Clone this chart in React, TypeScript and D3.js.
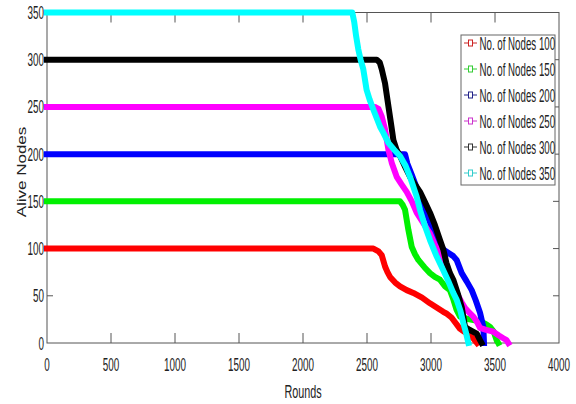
import React from 'react';
import * as d3 from 'd3';

const xTicks = [0, 500, 1000, 1500, 2000, 2500, 3000, 3500, 4000];
const yTicks = [0, 50, 100, 150, 200, 250, 300, 350];
const xLabel = 'Rounds';
const yLabel = 'Alive Nodes';

const seriesNames = [
  'No. of Nodes 100',
  'No. of Nodes 150',
  'No. of Nodes 200',
  'No. of Nodes 250',
  'No. of Nodes 300',
  'No. of Nodes 350',
];
const seriesColors = ['#ff0000', '#00f000', '#0000ff', '#ff00ff', '#000000', '#00ffff'];
const legendColors = ['#cc2222', '#33cc33', '#222288', '#cc33cc', '#333333', '#33cccc'];

const rounds100 = [0, 2550, 2590, 2615, 2641, 2660, 2680, 2720, 2758, 2810, 2862, 2930, 2992, 3050, 3096, 3122, 3160, 3188, 3227, 3260, 3300, 3330, 3360];
const alive100 = [100, 100, 97, 93, 81, 75, 70, 64, 60, 56, 53, 48, 42, 37, 33, 31, 27, 22, 15, 12, 8, 5, 0];

const rounds150 = [0, 2758, 2780, 2797, 2823, 2849, 2875, 2901, 2950, 2992, 3030, 3070, 3110, 3148, 3175, 3200, 3227, 3300, 3383, 3430, 3461, 3490, 3513, 3525];
const alive150 = [150, 150, 146, 141, 120, 102, 94, 88, 80, 74, 70, 67, 60, 56, 46, 35, 28, 25, 23, 20, 17, 12, 3, 0];

const rounds200 = [0, 2797, 2815, 2850, 2900, 2950, 3000, 3050, 3096, 3140, 3174, 3200, 3240, 3280, 3318, 3350, 3383, 3409, 3414];
const alive200 = [200, 200, 190, 178, 160, 142, 125, 110, 99, 95, 92, 88, 74, 65, 56, 45, 32, 17, 0];

const rounds250 = [0, 2562, 2590, 2615, 2641, 2667, 2693, 2732, 2770, 2810, 2850, 2888, 2940, 2992, 3030, 3070, 3120, 3174, 3200, 3240, 3266, 3300, 3331, 3360, 3383, 3430, 3487, 3530, 3565, 3590, 3604];
const alive250 = [250, 250, 248, 240, 226, 205, 191, 176, 168, 160, 150, 138, 127, 116, 104, 95, 80, 60, 53, 43, 37, 32, 28, 22, 16, 14, 12, 8, 5, 3, 0];

const rounds300 = [0, 2576, 2600, 2615, 2641, 2667, 2690, 2706, 2730, 2758, 2800, 2836, 2880, 2914, 2950, 2992, 3030, 3070, 3096, 3120, 3148, 3174, 3210, 3240, 3266, 3300, 3357, 3383, 3395];
const alive300 = [300, 300, 297, 290, 275, 251, 230, 215, 205, 198, 186, 176, 167, 160, 150, 138, 125, 109, 99, 85, 74, 67, 52, 38, 17, 14, 10, 3, 0];

const rounds350 = [0, 2385, 2400, 2415, 2432, 2450, 2471, 2497, 2520, 2550, 2602, 2630, 2667, 2710, 2758, 2800, 2836, 2888, 2914, 2950, 2992, 3040, 3096, 3140, 3174, 3200, 3230, 3253, 3275, 3292];
const alive350 = [350, 350, 340, 325, 311, 300, 290, 268, 258, 247, 229, 222, 212, 205, 198, 188, 176, 155, 141, 125, 109, 93, 77, 64, 53, 46, 34, 21, 10, 0];

const seriesRounds = [rounds100, rounds150, rounds200, rounds250, rounds300, rounds350];
const seriesAlive = [alive100, alive150, alive200, alive250, alive300, alive350];

const W = 576;
const H = 404;
const M = { left: 47, right: 559, top: 12.5, bottom: 343 };
const FONT = "'Liberation Sans', Arial, Helvetica, sans-serif";
const AXIS = '#555555';

function CText({ x, y, sx = 0.55, size = 18, anchor = 'middle', children }: any) {
  return (
    <text
      transform={`translate(${x},${y}) scale(${sx},1)`}
      textAnchor={anchor}
      fontSize={size}
      fontFamily={FONT}
      fill="#222"
    >
      {children}
    </text>
  );
}

export default function App() {
  const x = d3.scaleLinear().domain([0, 4000]).range([M.left, M.right]);
  const y = d3.scaleLinear().domain([0, 350]).range([M.bottom, M.top]);

  const line = d3
    .line<[number, number]>()
    .x((d) => x(d[0]))
    .y((d) => y(d[1]));

  const series = seriesRounds.map((rs, i) => rs.map((r, j) => [r, seriesAlive[i][j]] as [number, number]));

  const legend = { x0: 461, x1: 555, y0: 35, y1: 185, first: 43, step: 26 };

  return (
    <svg
      width={W}
      height={H}
      style={{ position: 'absolute', left: 0, top: 0, background: '#fff' }}
    >
      <rect x={0} y={0} width={W} height={H} fill="#fff" />
      {xTicks.slice(1, -1).map((t) => (
        <g key={'xt' + t}>
          <line x1={x(t)} x2={x(t)} y1={M.bottom} y2={M.bottom - 10} stroke={AXIS} strokeWidth={1} />
          <line x1={x(t)} x2={x(t)} y1={M.top} y2={M.top + 10} stroke={AXIS} strokeWidth={1} />
        </g>
      ))}
      {yTicks.slice(1, -1).map((t) => (
        <g key={'yt' + t}>
          <line x1={M.left} x2={M.left + 6} y1={y(t)} y2={y(t)} stroke={AXIS} strokeWidth={1} />
          <line x1={M.right} x2={M.right - 6} y1={y(t)} y2={y(t)} stroke={AXIS} strokeWidth={1} />
        </g>
      ))}
      <rect
        x={M.left}
        y={M.top}
        width={M.right - M.left}
        height={M.bottom - M.top}
        fill="none"
        stroke={AXIS}
        strokeWidth={1}
      />
      {series.map((s, i) => (
        <path
          key={'s' + i}
          d={line(s) || ''}
          fill="none"
          stroke={seriesColors[i]}
          strokeWidth={6}
          strokeLinejoin="round"
          strokeLinecap="square"
        />
      ))}
      {xTicks.map((t) => (
        <CText key={'xl' + t} x={x(t)} y={371} anchor="middle">
          {t}
        </CText>
      ))}
      {yTicks.map((t) => (
        <CText key={'yl' + t} x={44} y={y(t) + 6.5} anchor="end">
          {t}
        </CText>
      ))}
      <CText x={303} y={398} size={18} sx={0.6} anchor="middle">
        {xLabel}
      </CText>
      <text
        transform={`translate(26,172) scale(0.8,1) rotate(-90)`}
        textAnchor="middle"
        fontSize={17}
        fontFamily={FONT}
        fill="#222"
      >
        {yLabel}
      </text>
      <rect
        x={legend.x0}
        y={legend.y0}
        width={legend.x1 - legend.x0}
        height={legend.y1 - legend.y0}
        fill="#fff"
        stroke="#666"
        strokeWidth={1}
      />
      {seriesNames.map((n, i) => {
        const cy = legend.first + i * legend.step;
        return (
          <g key={'lg' + i}>
            <line x1={464} x2={477} y1={cy} y2={cy} stroke={legendColors[i]} strokeWidth={1} />
            <rect x={468.5} y={cy - 3} width={4} height={6} fill="#fff" stroke={legendColors[i]} strokeWidth={1} />
            <CText x={479.5} y={cy + 6.5} size={18} sx={0.54} anchor="start">
              {n}
            </CText>
          </g>
        );
      })}
    </svg>
  );
}
